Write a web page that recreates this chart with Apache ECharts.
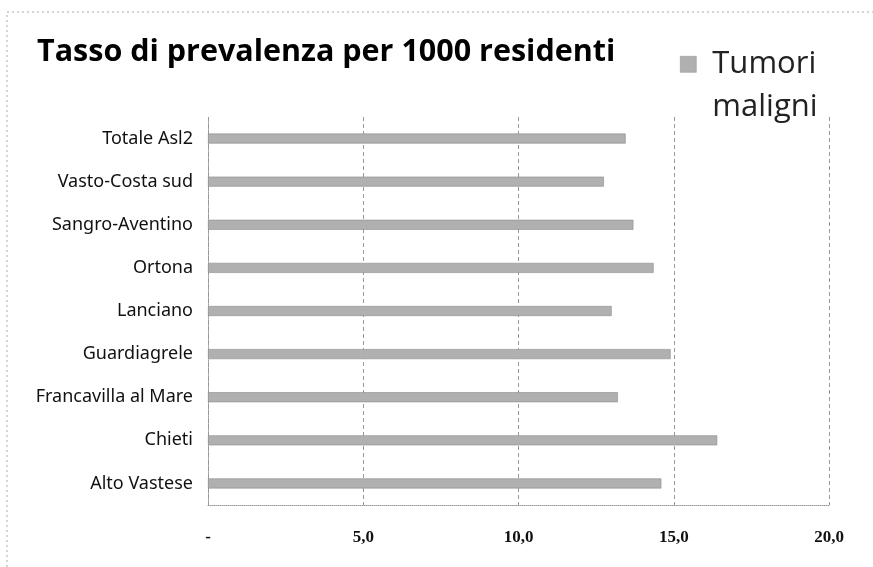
<!DOCTYPE html>
<html>
<head>
<meta charset="utf-8">
<script src="https://cdn.jsdelivr.net/npm/echarts@6/dist/echarts.min.js"></script>
<style>
html,body{margin:0;padding:0;background:#fff;}
#chart{width:873px;height:567px;}
</style>
</head>
<body>
<div id="chart"></div>
<script>
const categories = ['Alto Vastese','Chieti','Francavilla al Mare','Guardiagrele','Lanciano','Ortona','Sangro-Aventino','Vasto-Costa sud','Totale Asl2'];
const tumoriMaligni = [14.6, 16.4, 13.2, 14.9, 13.0, 14.35, 13.7, 12.75, 13.45];
const seriesName = 'Tumori maligni';
const titleText = 'Tasso di prevalenza per 1000 residenti';
const xTicks = [0, 5, 10, 15, 20];

const chart = echarts.init(document.getElementById('chart'), null, {renderer:'canvas'});
chart.setOption({
  backgroundColor:'#ffffff',
  animation:false,
  title:{
    text:titleText,
    left:37, top:32, padding:0,
    textStyle:{fontFamily:'Open Sans', fontWeight:'bold', fontSize:30.5, color:'#000', lineHeight:40}
  },
  legend:{
    data:[seriesName],
    left:680, top:42, padding:0,
    itemWidth:16, itemHeight:86,
    icon:'path://M0,0L0.01,0L0,0.01Z M0,14L16,14L16,30L0,30Z M0,86L0.01,86L0,85.99Z',
    formatter:function(){ return 'Tumori\nmaligni'; },
    itemStyle:{color:'#b0b0b0', borderColor:'#999', borderWidth:0.6},
    textStyle:{fontFamily:'Open Sans', fontSize:31, color:'#222', lineHeight:43, padding:[0,0,0,11]}
  },
  grid:{left:208, right:44, top:117, bottom:62, containLabel:false},
  xAxis:{
    type:'value', min:xTicks[0], max:xTicks[xTicks.length-1], interval:5,
    axisLine:{show:true, lineStyle:{color:'#999', type:'dotted', width:1}},
    axisTick:{show:false},
    splitLine:{show:true, lineStyle:{color:'#999', type:[4,3], width:1}},
    axisLabel:{
      margin:24,
      fontFamily:'Liberation Serif', fontWeight:'bold', fontSize:17, color:'#111',
      formatter:function(v){ return v===0 ? '-' : v.toFixed(1).replace('.', ','); }
    }
  },
  yAxis:{
    type:'category', data:categories,
    axisLine:{show:true, lineStyle:{color:'#999', type:'dotted', width:1}},
    axisTick:{show:false},
    axisLabel:{margin:15, fontFamily:'Noto Sans', fontSize:18, color:'#111'}
  },
  series:[{
    name:seriesName, type:'bar', data:tumoriMaligni,
    barWidth:10,
    itemStyle:{color:'#b0b0b0', borderColor:'#8c8c8c', borderWidth:0.6}
  }],
  graphic:[{
    type:'polyline', silent:true,
    shape:{points:[[7,567],[7,12],[873,12]]},
    style:{stroke:'#aaa', lineWidth:1, lineDash:[2,3], fill:null}
  }]
});
</script>
</body>
</html>
